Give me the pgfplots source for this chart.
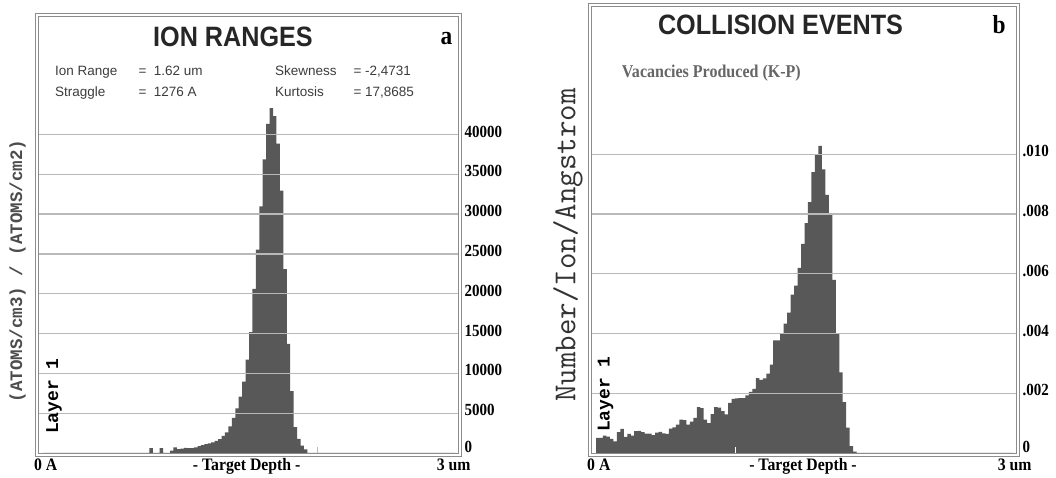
\documentclass[border=0pt]{standalone}
\usepackage{pgfplots}
\pgfplotsset{compat=1.18}
\usepackage{fontspec}
\setmainfont{Liberation Serif}
\newfontfamily\arialf{Liberation Sans}
\newfontfamily\courf{Liberation Mono}
\newcommand\fs[1]{\fontsize{#1}{#1}\selectfont}

\definecolor{histgray}{RGB}{88,88,88}
\definecolor{gridgray}{RGB}{185,185,185}
\definecolor{framegray}{RGB}{140,140,140}
\definecolor{txtgray}{RGB}{60,60,60}

\pgfplotsset{
  srim/.style={
    anchor=south west, scale only axis,
    axis on top,
    axis line style={draw=framegray, double=white, double distance=1.4pt, line width=0.9pt},
    ymajorgrids, grid style={draw=gridgray, line width=1.3pt},
    scaled y ticks=false, scaled x ticks=false,
    ytick pos=right, yticklabel pos=right,
    ytick style={draw=none},
    yticklabel style={font=\fs{17}\bfseries, xscale=0.88, anchor=west, inner sep=0pt, xshift=5pt, yshift=3pt},
    /pgf/number format/assume math mode=true,
    extra y ticks={0}, extra y tick labels={0},
    extra y tick style={grid=none, yticklabel style={yshift=3.5pt}},
    xtick pos=left, xtick align=inside, xticklabels={},
    major tick length=8pt,
  }
}

\begin{document}
\begin{tikzpicture}[x=1pt,y=1pt]
\path[use as bounding box] (0pt,0pt) rectangle (1056pt,478pt);

% panel a: ion ranges
\begin{axis}[srim,
  at={(37pt,23pt)}, width=423pt, height=440pt,
  xmin=-0.0437, xmax=3.0364,
  ymin=-251, ymax=55013,
  ytick={5000,10000,...,40000},
  yticklabels={5000,10000,15000,20000,25000,30000,35000,40000},
  xtick={2}, xtick style={draw=gridgray, line width=1pt},
]
\addplot[const plot mark left, fill=histgray, draw=none] coordinates {
(0,0) (0.75,0) (0.775,600) (0.8,0) (0.825,0) (0.85,600) (0.875,0) (0.9,0)
(0.925,300) (0.95,700) (0.975,500) (1.0,550) (1.025,650) (1.05,600) (1.075,600)
(1.1,700) (1.125,870) (1.15,990) (1.175,1100) (1.2,1220) (1.225,1320) (1.25,1510)
(1.275,1740) (1.3,2150) (1.325,2600) (1.35,3340) (1.375,4420) (1.4,5600)
(1.425,7090) (1.45,8960) (1.475,11730) (1.5,15180) (1.525,20610) (1.55,25540)
(1.575,30970) (1.6,36890) (1.625,41330) (1.65,43310) (1.675,42320) (1.7,38870)
(1.725,32950) (1.75,23080) (1.775,13700) (1.8,7780) (1.825,3240) (1.85,1760)
(1.875,920) (1.9,470) (1.925,0) (3,0)
} \closedcycle;
\end{axis}

% panel b: collision events
\begin{axis}[srim,
  at={(590pt,23pt)}, width=428pt, height=450pt,
  xmin=-0.0432, xmax=3.036,
  ymin=-0.000067, ymax=0.015,
  ytick={0.002,0.004,0.006,0.008,0.01},
  yticklabels={.002,.004,.006,.008,.010},
  xtick={1}, xtick style={draw=white, line width=1pt},
]
\addplot[const plot mark left, fill=histgray, draw=none] coordinates {
(0,0.00051) (0.025,0.00051) (0.05,0.00058) (0.075,0.00055) (0.1,0.00047)
(0.125,0.00039) (0.15,0.00070) (0.175,0.00081) (0.2,0.00054) (0.225,0.00064)
(0.25,0.00058) (0.275,0.00073) (0.3,0.00074) (0.325,0.00070) (0.35,0.00065)
(0.375,0.00065) (0.4,0.00060) (0.425,0.00068) (0.45,0.00071) (0.475,0.00066)
(0.5,0.00064) (0.525,0.00082) (0.55,0.00086) (0.575,0.00095) (0.6,0.00112)
(0.625,0.00110) (0.65,0.00095) (0.675,0.00105) (0.7,0.00118) (0.725,0.00154)
(0.75,0.00150) (0.775,0.00112) (0.8,0.00100) (0.825,0.00130) (0.85,0.00154)
(0.875,0.00152) (0.9,0.00140) (0.925,0.00129) (0.95,0.00168) (0.975,0.00181)
(1.0,0.00183) (1.025,0.00184) (1.05,0.00184) (1.075,0.00193) (1.1,0.00205)
(1.125,0.00215) (1.15,0.00251) (1.175,0.00245) (1.2,0.00250) (1.225,0.00266)
(1.25,0.00296) (1.275,0.00377) (1.3,0.00377) (1.325,0.00400) (1.35,0.00433)
(1.375,0.00470) (1.4,0.00530) (1.425,0.00560) (1.45,0.00620) (1.475,0.00700)
(1.5,0.00770) (1.525,0.00840) (1.55,0.00940) (1.575,0.01000) (1.6,0.01028)
(1.625,0.00950) (1.65,0.00864) (1.675,0.00800) (1.7,0.00580) (1.725,0.00400)
(1.75,0.00270) (1.775,0.00170) (1.8,0.00085) (1.825,0.00023) (1.85,0.00005)
(1.875,0) (3,0)
} \closedcycle;
\end{axis}

% titles and annotations
\node[anchor=base, text=black!85, font=\arialf\fs{28}\bfseries, xscale=0.9] at (233pt,431.3pt) {ION RANGES};
\node[anchor=base, font=\fs{26}\bfseries, xscale=0.9] at (446.5pt,433pt) {a};
\node[anchor=base, text=black!85, font=\arialf\fs{28}\bfseries, xscale=0.9] at (780.5pt,443pt) {COLLISION EVENTS};
\node[anchor=base, font=\fs{26}\bfseries, xscale=0.9] at (999pt,444.7pt) {b};

\begin{scope}[every node/.style={anchor=base west, inner sep=0pt, text=txtgray, font=\arialf\fs{13.5}}]
\node at (55pt,402pt) {Ion Range};
\node at (138.3pt,402pt) {=\ \ 1.62 um};
\node at (275pt,402pt) {Skewness};
\node at (353.3pt,402pt) {= -2,4731};
\node at (55pt,381pt) {Straggle};
\node at (138.3pt,381pt) {=\ \ 1276 A};
\node at (275pt,381pt) {Kurtosis};
\node at (353.3pt,381pt) {= 17,8685};
\end{scope}

\node[anchor=base west, inner sep=0pt, text=black!60, font=\fs{18}\bfseries, xscale=0.89] at (621.7pt,400.7pt) {Vacancies Produced (K-P)};

% axis titles
\node[rotate=90, text=black!70, font=\courf\fs{17.5}\bfseries] at (17.5pt,207pt) {(ATOMS/cm3) / (ATOMS/cm2)};
\node[rotate=90, text=black!80, font=\ttfamily\fs{32}] at (568pt,233pt) {Number/Ion/Angstrom};
\node[rotate=90, font=\courf\fs{18}\bfseries] at (54pt,82pt) {Layer 1};
\node[rotate=90, font=\courf\fs{18}\bfseries] at (605.5pt,84pt) {Layer 1};

\begin{scope}[every node/.style={inner sep=0pt, font=\fs{17.5}\bfseries, xscale=0.9}]
\node[anchor=base west] at (34pt,7pt) {0 A};
\node[anchor=base] at (246.7pt,7pt) {- Target Depth -};
\node[anchor=base east] at (470.7pt,7pt) {3 um};
\node[anchor=base west] at (587pt,7pt) {0 A};
\node[anchor=base] at (803pt,7pt) {- Target Depth -};
\node[anchor=base east] at (1031.7pt,7pt) {3 um};
\end{scope}
\end{tikzpicture}
\end{document}
